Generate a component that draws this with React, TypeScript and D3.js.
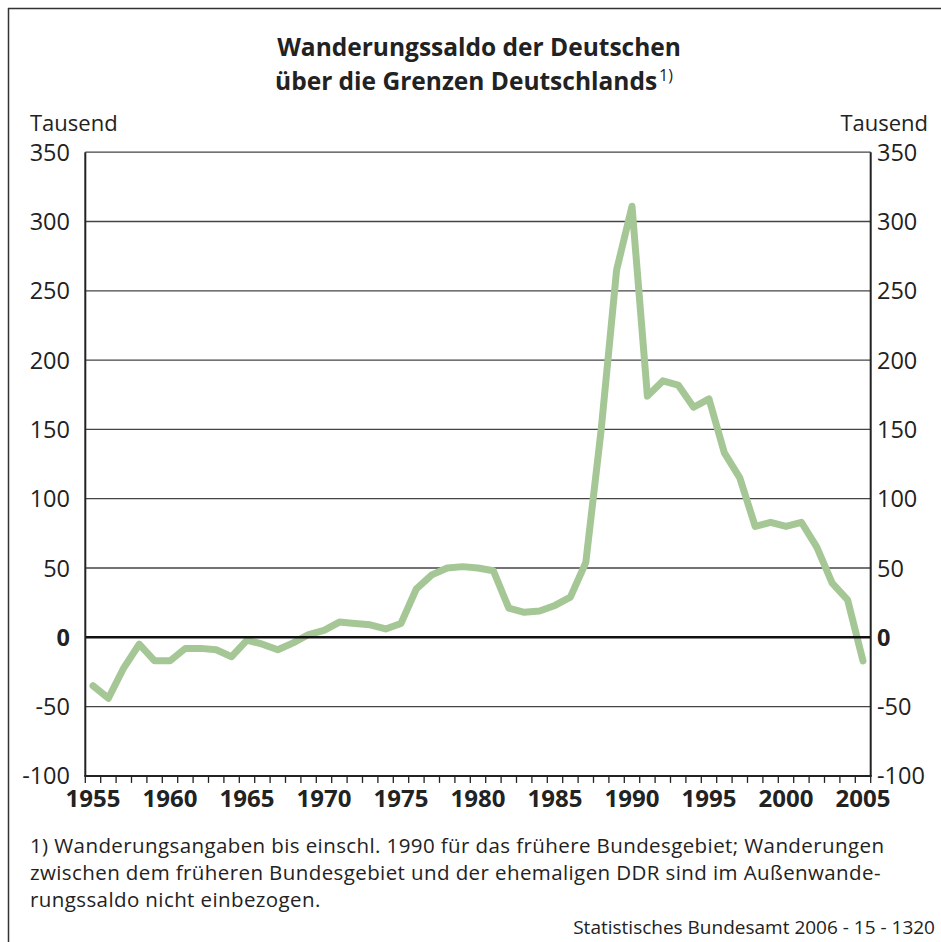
import React from 'react'
import * as d3 from 'd3'

const years = d3.range(1955, 2006)
const saldo = [
    -35, -44, -22, -5, -17, -17, -8, -8, -9, -14,
    -2, -5, -9, -4, 2, 5, 11, 10, 9, 6,
    10, 35, 45, 50, 51, 50, 48, 21, 18, 19,
    23, 29, 54, 150, 265, 311, 174, 185, 182, 166,
    172, 133, 115, 80, 83, 80, 83, 65, 39, 27,
    -17,
]
const yTicks = [-100, -50, 0, 50, 100, 150, 200, 250, 300, 350]
const yearLabels = [1955, 1960, 1965, 1970, 1975, 1980, 1985, 1990, 1995, 2000, 2005]
const footnote = [
    '1) Wanderungsangaben bis einschl. 1990 für das frühere Bundesgebiet; Wanderungen',
    'zwischen dem früheren Bundesgebiet und der ehemaligen DDR sind im Außenwande-',
    'rungssaldo nicht einbezogen.',
]

const W = 941
const H = 942
const left = 85.3
const right = 870.7
const top = 152.2
const bottom = 775.9
const font = '"Open Sans", "Noto Sans", sans-serif'

const App = () => {
    const x = d3.scaleBand<number>().domain(years).range([left, right]).padding(0)
    const y = d3.scaleLinear().domain([-100, 350]).range([bottom, top])
    const cx = (yr: number) => (x(yr) as number) + x.bandwidth() / 2
    const line = d3.line<number>()
        .x((d, i) => cx(years[i]))
        .y(d => y(d))

    return (
        <svg width={W} height={H} style={{ position: 'absolute', left: 0, top: 0, background: '#fff' }}
            fontFamily={font}>
            <line x1={8.5} x2={8.5} y1={8} y2={H} stroke="#333" strokeWidth={1.5} />
            <line x1={8} x2={W} y1={8.5} y2={8.5} stroke="#333" strokeWidth={1.5} />

            <text x={479} y={56} textAnchor="middle" fontSize={24.5} fontWeight="bold" fill="#222">
                Wanderungssaldo der Deutschen
            </text>
            <text x={474} y={90} textAnchor="middle" fontSize={24.5} fontWeight="bold" fill="#222">
                über die Grenzen Deutschlands<tspan fontSize={16} fontWeight="normal" dx={2} dy={-9}>1)</tspan>
            </text>

            <text x={30} y={131} fontSize={22} fill="#222">Tausend</text>
            <text x={928} y={131} fontSize={22} fill="#222" textAnchor="end">Tausend</text>

            {yTicks.map(t => (
                <g key={t}>
                    {t !== 0 && t !== -100 && (
                        <line x1={left} x2={right} y1={y(t)} y2={y(t)} stroke="#444" strokeWidth={1.3} />
                    )}
                    <text x={70} y={y(t) + 8.5} textAnchor="end" fontSize={23.5}
                        fontWeight={t === 0 ? 'bold' : 'normal'} fill="#222">{t}</text>
                    <text x={877} y={y(t) + 8.5} fontSize={23.5}
                        fontWeight={t === 0 ? 'bold' : 'normal'} fill="#222">{t}</text>
                </g>
            ))}

            <path d={line(saldo) || ''} fill="none" stroke="#a5c796" strokeWidth={7}
                strokeLinejoin="round" strokeLinecap="round" />

            <line x1={left} x2={right} y1={y(0)} y2={y(0)} stroke="#111" strokeWidth={2.5} />
            <line x1={left} x2={left} y1={top} y2={bottom} stroke="#222" strokeWidth={2} />
            <line x1={right} x2={right} y1={top} y2={bottom} stroke="#222" strokeWidth={2} />
            <line x1={left - 1} x2={right + 1} y1={bottom} y2={bottom} stroke="#222" strokeWidth={2} />

            {years.concat([2006]).map(yr => {
                const px = yr === 2006 ? right : (x(yr) as number)
                return <line key={yr} x1={px} x2={px} y1={bottom} y2={bottom + 7} stroke="#222" strokeWidth={1.3} />
            })}
            {yearLabels.map(yr => (
                <text key={yr} x={cx(yr)} y={807} textAnchor="middle" fontSize={24} fontWeight="bold" fill="#222">
                    {yr}
                </text>
            ))}

            {footnote.map((s, i) => (
                <text key={i} x={30} y={853 + i * 27} fontSize={20.5} letterSpacing={0.4} fill="#222">{s}</text>
            ))}
            <text x={935} y={934} textAnchor="end" fontSize={19} fill="#222">
                Statistisches Bundesamt 2006 - 15 - 1320
            </text>
        </svg>
    )
}

export default App
